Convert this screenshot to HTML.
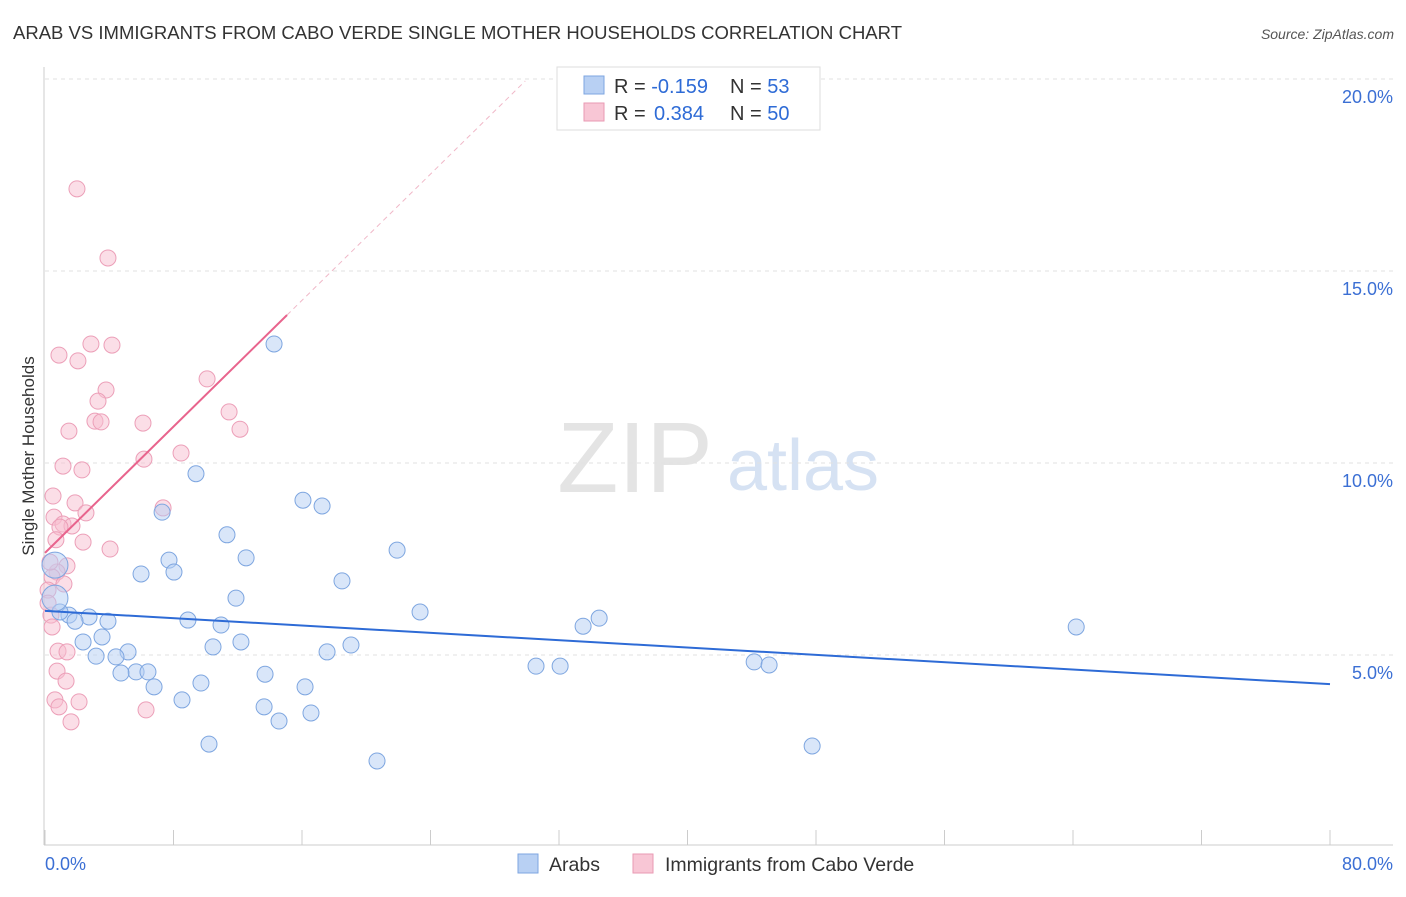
<!DOCTYPE html>
<html><head><meta charset="utf-8"><style>
body{margin:0;background:#fff;font-family:"Liberation Sans",sans-serif;}
svg text{font-family:"Liberation Sans",sans-serif;}
</style></head><body>
<svg id="c" width="1406" height="892" viewBox="0 0 1406 892">
<text x="13" y="39" font-size="18" fill="#333" textLength="889" lengthAdjust="spacingAndGlyphs">ARAB VS IMMIGRANTS FROM CABO VERDE SINGLE MOTHER HOUSEHOLDS CORRELATION CHART</text>
<text x="1394" y="39" font-size="14" fill="#555" font-style="italic" text-anchor="end">Source: ZipAtlas.com</text>
<text x="635" y="492" font-size="100" fill="#e4e4e4" font-family="Liberation Serif" text-anchor="middle">ZIP</text>
<text x="803" y="490" font-size="72" fill="#d6e2f3" text-anchor="middle">atlas</text>
<text transform="translate(34,456) rotate(-90)" font-size="17" fill="#333" text-anchor="middle">Single Mother Households</text>
<g id="grid"></g><g id="marks"></g>
<g>
<rect x="557" y="67" width="263" height="63" fill="#fff" stroke="#ddd"/>
<rect x="584" y="76" width="20" height="18" fill="#b8d0f3" stroke="#7ea6e0"/>
<rect x="584" y="103" width="20" height="18" fill="#f8c6d5" stroke="#e99ab3"/>
<text x="614" y="93" font-size="20" fill="#333">R = <tspan fill="#2e6bd6">-0.159</tspan><tspan x="730">N = </tspan><tspan fill="#2e6bd6">53</tspan></text>
<text x="614" y="120" font-size="20" fill="#333">R = <tspan fill="#2e6bd6" x="654">0.384</tspan><tspan x="730">N = </tspan><tspan fill="#2e6bd6">50</tspan></text>
</g>
<g>
<rect x="518" y="854" width="20" height="19" fill="#b8d0f3" stroke="#7ea6e0"/>
<text x="549" y="871" font-size="19.5" fill="#333">Arabs</text>
<rect x="633" y="854" width="20" height="19" fill="#f8c6d5" stroke="#e99ab3"/>
<text x="665" y="871" font-size="19.5" fill="#333">Immigrants from Cabo Verde</text>
</g>
</svg>
<script>
const yTicks=[5,10,15,20];
const yTickLabels=["5.0%","10.0%","15.0%","20.0%"];
const xLabels=["0.0%","80.0%"];
const arabX=[14.26,9.40,7.29,16.06,17.25,11.33,21.92,7.72,12.52,5.98,8.03,18.49,11.89,23.35,34.50,33.50,64.20,3.92,2.74,1.49,0.93,1.87,8.90,10.96,10.46,12.20,19.05,17.56,3.55,2.37,5.17,4.42,3.18,5.67,4.73,6.41,6.79,9.71,13.70,16.19,30.57,32.07,44.15,45.08,8.53,13.64,16.56,14.57,10.21,47.76,20.67,0.62,0.62];
const arabY=[13.10,9.72,8.72,9.03,8.88,8.13,7.73,7.47,7.53,7.11,7.16,6.93,6.48,6.12,5.96,5.75,5.73,5.88,5.99,6.04,6.12,5.88,5.91,5.78,5.21,5.34,5.26,5.08,5.47,5.34,5.08,4.95,4.97,4.56,4.53,4.56,4.17,4.27,4.50,4.17,4.71,4.71,4.82,4.74,3.83,3.65,3.49,3.28,2.68,2.63,2.24,7.34,6.48];
const caboX=[1.99,3.92,2.86,4.17,0.87,2.05,3.80,10.09,3.30,11.46,3.11,3.49,6.10,12.14,1.49,8.47,6.16,1.12,2.30,0.50,1.87,7.35,2.55,0.56,1.12,1.68,0.93,2.37,4.05,0.68,1.37,0.75,0.44,1.18,0.19,0.37,0.44,0.81,1.37,0.75,1.31,0.62,2.12,0.87,6.29,1.62,0.31,0.19];
const caboY=[17.14,15.34,13.10,13.07,12.81,12.66,11.90,12.19,11.61,11.33,11.09,11.07,11.04,10.88,10.83,10.26,10.10,9.92,9.82,9.14,8.96,8.83,8.70,8.59,8.41,8.36,8.33,7.94,7.76,8.00,7.32,7.16,7.03,6.85,6.69,6.04,5.73,5.10,5.08,4.58,4.32,3.83,3.78,3.65,3.57,3.26,7.42,6.35];
const arabTrend=[6.15,4.24];
const caboTrend=[7.66,0.411];
const X=v=>45+v*(1285/80), Y=v=>847-v*38.4;
const NS="http://www.w3.org/2000/svg";
function mk(p,t,a){const e=document.createElementNS(NS,t);for(const k in a)e.setAttribute(k,a[k]);p.appendChild(e);return e;}
const g=document.getElementById('grid'), m=document.getElementById('marks');
yTicks.forEach((t,i)=>{
 const l=mk(g,'line',{x1:45,x2:1393,y1:Y(t),y2:Y(t),stroke:'#e2e2e2','stroke-dasharray':'4,4'});
 
 
 const tx=mk(g,'text',{x:1393,y:Y(t)+24,'font-size':18,fill:'#3b6fd4','text-anchor':'end'});tx.textContent=yTickLabels[i];
 
 
});
const ax=mk(g,'line',{x1:44,x2:44,y1:67,y2:845,stroke:'#ccc'});


const bx=mk(g,'line',{x1:44,x2:1393,y1:845,y2:845,stroke:'#ccc'});


for(let i=0;i<=10;i++){const t=mk(g,'line',{x1:X(i*8),x2:X(i*8),y1:830,y2:845,stroke:'#ccc'});
 
 }
[[0,'start',45],[80,'end',1393]].forEach((d,i)=>{const t=mk(g,'text',{x:d[2],y:870,'font-size':18,fill:'#3b6fd4','text-anchor':d[1]});t.textContent=xLabels[i];
 
 });
caboX.forEach((x,i)=>{const c=mk(m,'circle',{cx:X(x),cy:Y(caboY[i]),r:8,fill:'rgba(248,190,208,0.5)',stroke:'#ec9fb8','stroke-width':1});
 
 });
arabX.forEach((x,i)=>{const r=i>=51?13:8;const c=mk(m,'circle',{cx:X(x),cy:Y(arabY[i]),r:r,fill:'rgba(180,205,243,0.5)',stroke:'#7ea6e0','stroke-width':1});
 
 });
const bl=mk(m,'line',{x1:X(0),y1:Y(arabTrend[0]),x2:X(80),y2:Y(arabTrend[1]),stroke:'#2e6bd6','stroke-width':2});


const pl=mk(m,'line',{x1:X(0),y1:Y(caboTrend[0]),x2:X(15.07),y2:Y(caboTrend[0]+caboTrend[1]*15.07),stroke:'#e8648d','stroke-width':2});


const pd=mk(m,'line',{x1:X(15.07),y1:Y(caboTrend[0]+caboTrend[1]*15.07),x2:X(29.9),y2:Y(caboTrend[0]+caboTrend[1]*29.9),stroke:'#f0b8c8','stroke-width':1,'stroke-dasharray':'5,4'});


</script>
</body></html>
